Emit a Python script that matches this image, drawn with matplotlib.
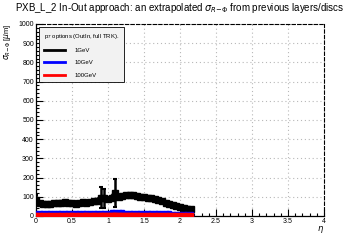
import matplotlib
matplotlib.use("Agg")
import matplotlib.pyplot as plt
import numpy as np
from matplotlib.ticker import MultipleLocator, FuncFormatter

plt.rcParams["font.family"] = ["Liberation Sans", "DejaVu Sans"]

# eta bins and sigma_{R-phi} [um] per momentum
eta = [0.00, 0.05, 0.10, 0.15, 0.20, 0.25, 0.30, 0.35, 0.40, 0.45, 0.50,
       0.55, 0.60, 0.65, 0.70, 0.75, 0.80, 0.85, 0.90, 0.95, 1.00, 1.05,
       1.10, 1.15, 1.20, 1.25, 1.30, 1.35, 1.40, 1.45, 1.50, 1.55, 1.60,
       1.65, 1.70, 1.75, 1.80, 1.85, 1.90, 1.95, 2.00, 2.05, 2.10, 2.15]
sigma_1gev = [85, 68, 62, 65, 63, 67, 66, 70, 71, 68, 66, 65, 68, 71, 70,
              74, 77, 80, 95, 92, 88, 94, 120, 100, 104, 108, 110, 108, 104,
              100, 97, 95, 92, 88, 82, 77, 70, 65, 58, 52, 47, 42, 38, 34]
err_1gev = [25, 6, 6, 6, 6, 6, 6, 6, 6, 6, 6, 6, 6, 6, 6, 6, 6, 8, 55, 50,
            10, 10, 75, 8, 8, 8, 8, 8, 8, 8, 8, 8, 8, 8, 8, 8, 8, 8, 8, 8,
            8, 8, 8, 8]
sigma_10gev = [18, 16, 15, 16, 15, 16, 15, 16, 15, 16, 17, 16, 15, 16, 17,
               16, 17, 16, 18, 17, 18, 19, 21, 20, 19, 18, 18, 17, 17, 16,
               16, 16, 15, 15, 15, 14, 14, 14, 13, 13, 13, 12, 12, 12]
sigma_100gev = [6, 5, 5, 5, 5, 5, 5, 5, 5, 5, 6, 5, 5, 5, 6, 5, 6, 5, 6, 6,
                6, 6, 7, 6, 6, 6, 6, 6, 6, 5, 5, 5, 5, 5, 5, 5, 5, 5, 5, 5,
                5, 5, 5, 5]

labels = ["1GeV", "10GeV", "100GeV"]
colors = ["black", "blue", "red"]

fig = plt.figure(figsize=(3.6, 2.4), dpi=100)
ax = fig.add_axes([0.1, 0.1, 0.8, 0.8])

ax.errorbar(eta, sigma_1gev, yerr=err_1gev, color=colors[0], marker="s",
            markersize=4, linewidth=3.5, elinewidth=1.8, capsize=1.5,
            capthick=1.5, zorder=3)
ax.plot(eta, sigma_10gev, color=colors[1], marker="s", markersize=2.5,
        linewidth=2.2, zorder=4)
ax.plot(eta, sigma_100gev, color=colors[2], marker="s", markersize=3,
        linewidth=3, zorder=5)

ax.set_xlim(0, 4)
ax.set_ylim(0, 1000)
ax.xaxis.set_major_locator(MultipleLocator(0.5))
ax.xaxis.set_minor_locator(MultipleLocator(0.1))
ax.yaxis.set_major_locator(MultipleLocator(100))
ax.yaxis.set_minor_locator(MultipleLocator(20))
ax.xaxis.set_major_formatter(FuncFormatter(lambda v, p: f"{v:g}"))
ax.tick_params(which="both", direction="in", labelsize=5, width=0.8,
               top=False, right=False, pad=1.5)
ax.tick_params(which="major", length=5)
ax.tick_params(which="minor", length=2.5)
ax.grid(which="major", linestyle=(0, (1, 2.5)), color="#b8b8b8",
        linewidth=0.8)

for side in ("top", "right"):
    ax.spines[side].set_linestyle((0, (3, 2)))
    ax.spines[side].set_linewidth(0.8)
for side in ("left", "bottom"):
    ax.spines[side].set_linewidth(0.9)

fig.text(0.9, 0.045, r"$\eta$", fontsize=6, ha="right", va="center")
fig.text(0.022, 0.9, r"$\sigma_{R\mathrm{-}\Phi}$ [$\mu$m]", fontsize=5.5,
         rotation=90, ha="center", va="top")

fig.text(0.042, 0.965,
         r"PXB_L_2 In-Out approach: an extrapolated $\sigma_{R\mathrm{-}\Phi}$"
         " from previous layers/discs", fontsize=7.0, va="center", ha="left")

# legend proxies (plain lines, no markers)
handles = [ax.plot([], [], color=c, linewidth=2)[0] for c in colors]
leg = ax.legend(handles, labels, loc="upper left",
                bbox_to_anchor=(0.01, 0.985),
                title=r"p$_{T}$ options (OutIn, full TRK).", fontsize=4.3,
                title_fontsize=4.3, frameon=True, fancybox=False,
                edgecolor="black", facecolor="#f2f2f2", framealpha=1,
                handlelength=3.6, borderpad=0.8, labelspacing=1.2,
                handletextpad=1.6, borderaxespad=0)
leg._legend_box.align = "left"
leg.get_frame().set_linewidth(0.6)

fig.savefig("out.png", dpi=100)
